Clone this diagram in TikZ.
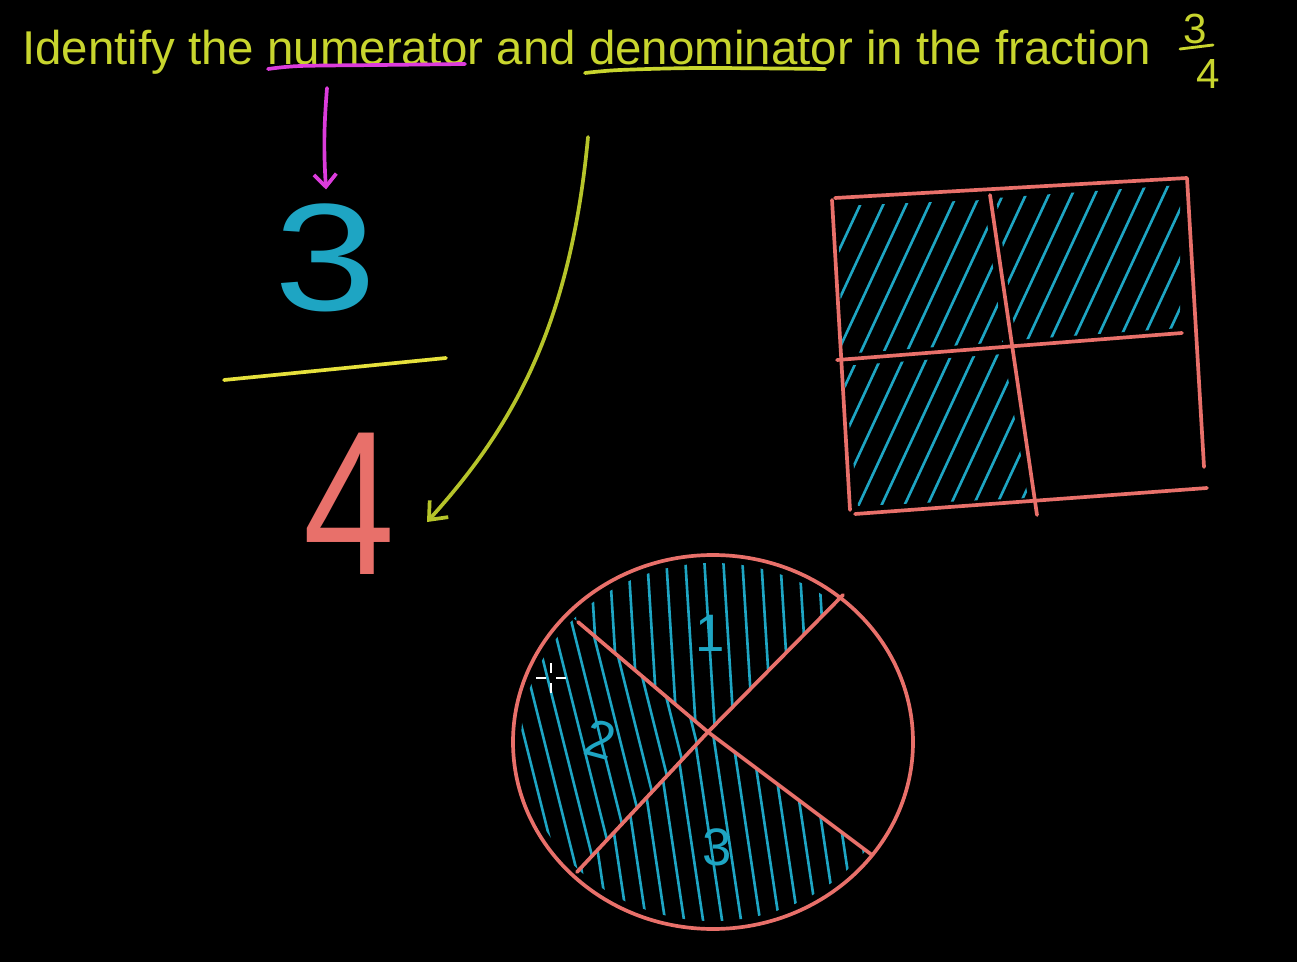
\documentclass[tikz,border=0pt]{standalone}
\usepackage{fontspec}
\setmainfont{Liberation Sans}
\usetikzlibrary{arrows.meta}
\definecolor{titlegreen}{HTML}{C8D52E}
\definecolor{numpink}{HTML}{DC3CDC}
\definecolor{baryellow}{HTML}{E6E13C}
\definecolor{denyellow}{HTML}{B6C42A}
\definecolor{hatchblue}{HTML}{1EA5C3}
\definecolor{penred}{HTML}{E8706A}

\begin{document}
\begin{tikzpicture}[x=0.02cm, y=-0.02cm,
  pen/.style={line width=2.1pt, line cap=round, line join=round},
  hatch/.style={hatchblue, line width=1.5pt, line cap=round},
  part/.style={pen, penred},
  bigdigit/.style={inner sep=0pt, font=\fontsize{87}{90}\selectfont},
  smalldigit/.style={inner sep=0pt, text=titlegreen, font=\fontsize{24}{26}\selectfont},
  piecelabel/.style={inner sep=0pt, text=hatchblue, font=\fontsize{30}{32}\selectfont},
  numarrow/.style={pen, numpink, -{Straight Barb[length=2.5mm, width=4.5mm]}},
  denarrow/.style={pen, denyellow, -{Straight Barb[length=3mm, width=5mm]}}
]
\fill[black] (0,0) rectangle (1297,962);
\useasboundingbox (0,0) rectangle (1297,962);

% question
\node[anchor=base west, inner sep=0pt, text=titlegreen, font=\fontsize{27}{30}\selectfont] (title) at (22,65) {Identify the numerator and denominator in the fraction};
\node[smalldigit] (sthree) at (1195,29) {3};
\node[smalldigit] (sfour) at (1208,74) {4};
\draw[pen, titlegreen, line width=1.6pt] (1180,49) -- (1213,45);
\draw[pen, numpink] plot[smooth] coordinates {(268,69) (300,66) (380,65) (465,64)};
\draw[pen, titlegreen] plot[smooth] coordinates {(585,73) (620,70) (700,68) (825,69)};

% the fraction
\node[bigdigit, text=hatchblue, inner sep=8pt] (three) at (326,258) {\scalebox{1.2}[1]{3}};
\draw[pen, baryellow] (224,380) -- (446,358);
\node[bigdigit, text=penred, font=\fontsize{117}{120}\selectfont] (four) at (349,504) {\scalebox{0.8}[1]{4}};
\coordinate (numtail) at (327,88);
\coordinate (dentail) at (588,137);
\coordinate (dentip) at (427,522);
\draw[numarrow] (numtail) to[bend right=4] (three.north);
\draw[denarrow] (dentail) .. controls (570,330) and (510,430) .. (dentip);

% rectangle in quarters
\coordinate (rtl) at (832,200);
\coordinate (rtr) at (1187,178);
\coordinate (rbr) at (1204,467);
\coordinate (rbl) at (850,510);
\begin{scope}
  \clip (838,206) -- (984,200) -- (1003,342) -- (842,354) -- cycle;
  \foreach \x in {640,663,...,1200} \draw[hatch] (\x,530) -- ++(172,-370);
\end{scope}
\begin{scope}
  \clip (996,198) -- (1180,185) -- (1180,328) -- (1016,340) -- cycle;
  \foreach \x in {640,663,...,1200} \draw[hatch] (\x,530) -- ++(172,-370);
\end{scope}
\begin{scope}
  \clip (843,366) -- (1004,354) -- (1028,498) -- (858,506) -- cycle;
  \foreach \x in {640,663,...,1200} \draw[hatch] (\x,530) -- ++(172,-370);
\end{scope}
\draw[part] (835,198) -- (rtr) -- (rbr);
\draw[part] (rtl) -- (rbl);
\draw[part] (855,514) -- (1207,488);
\draw[part] (990,195) -- (1037,515);
\draw[part] (837,360) -- (1182,333);

% circle in quarters
\coordinate (ctr) at (713,742);
\coordinate (hub) at (708,732);
\begin{scope}
  \clip (ctr) ellipse [x radius=192, y radius=179];
  \begin{scope}
    \clip (hub) -- (448,512) -- (448,400) -- (978,400) -- (978,458) -- cycle;
    \foreach \x in {380,399,...,900} \draw[hatch] (\x,540) -- ++(25,400);
  \end{scope}
  \begin{scope}
    \clip (hub) -- (448,512) -- (400,512) -- (400,1012) -- (446,1012) -- cycle;
    \foreach \x in {380,399,...,900} \draw[hatch] (\x,540) -- ++(100,400);
  \end{scope}
  \begin{scope}
    \clip (hub) -- (446,1012) -- (446,1050) -- (1036,1050) -- (1036,978) -- cycle;
    \foreach \x in {380,399,...,900} \draw[hatch] (\x,540) -- ++(60,400);
  \end{scope}
\end{scope}
\draw[part] (ctr) ellipse [x radius=200, y radius=187];
\draw[part] (578,622) -- (hub) -- (872,855);
\draw[part] (843,595) -- (hub) -- (577,872);
\node[piecelabel] (pone) at (710,633) {1};
\node[piecelabel, rotate=-15] (ptwo) at (600,740) {2};
\node[piecelabel] (pthree) at (717,847) {3};

% pointer
\draw[white, line width=0.8pt] (536,678) -- (546,678) (556,678) -- (566,678)
  (551,663) -- (551,673) (551,683) -- (551,693);
\end{tikzpicture}
\end{document}
